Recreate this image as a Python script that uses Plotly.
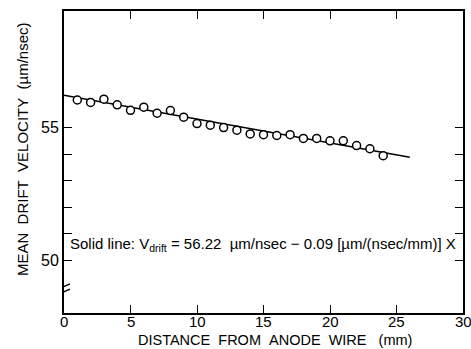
import plotly.graph_objects as go

distance_mm = [1, 2, 3, 4, 5, 6, 7, 8, 9, 10, 11, 12, 13, 14, 15, 16, 17, 18, 19, 20, 21, 22, 23, 24]
drift_velocity = [56.04, 55.95, 56.07, 55.86, 55.65, 55.77, 55.54, 55.64, 55.39, 55.15, 55.09, 55.00,
                  54.90, 54.76, 54.73, 54.70, 54.73, 54.59, 54.59, 54.50, 54.50, 54.32, 54.20, 53.94]
fit_intercept = 56.22
fit_slope = -0.09
fit_x = [0, 26]
fit_y = [fit_intercept + fit_slope * x for x in fit_x]

x_tickvals = [0, 5, 10, 15, 20, 25, 30]
x_ticktext = ["0", "5", "10", "15", "20", "25", "30"]
y_tickvals = [50, 51, 52, 53, 54, 55]
y_ticktext = ["50", "", "", "", "", "55"]

FONT = "Liberation Sans"
TICKFONT = "Liberation Sans Narrow, Liberation Sans"

fig = go.Figure()
fig.add_trace(go.Scatter(x=fit_x, y=fit_y, mode="lines",
                         line=dict(color="black", width=1.5), hoverinfo="skip"))
fig.add_trace(go.Scatter(x=distance_mm, y=drift_velocity, mode="markers",
                         marker=dict(symbol="circle", size=8, color="white",
                                     line=dict(color="black", width=1.5))))

axis_common = dict(showgrid=False, zeroline=False, showline=True, linecolor="black",
                   linewidth=1.8, mirror="ticks", ticks="inside", ticklen=8,
                   tickwidth=1.4, tickcolor="black",
                   tickfont=dict(family=TICKFONT, size=16, color="black"))

# x tick labels drawn as annotations so the last one ("30") is not dropped at the edge
fig.update_xaxes(range=[0, 30], tickvals=x_tickvals, showticklabels=False, **axis_common)
fig.update_yaxes(range=[48, 59.4], tickvals=y_tickvals, ticktext=y_ticktext, **axis_common)

for xv, xt in zip(x_tickvals, x_ticktext):
    fig.add_annotation(x=xv, y=0, xref="x", yref="paper", yshift=1, borderpad=0,
                       xanchor="center", yanchor="top", showarrow=False, text=xt,
                       font=dict(family=TICKFONT, size=15, color="black"))

# axis break marks on the left axis
fig.add_shape(type="rect", xref="x", yref="y", xsizemode="pixel", xanchor=0,
              x0=-3, x1=3, y0=48.82, y1=49.08, fillcolor="white", line=dict(width=0),
              layer="above")
for yb in [48.8, 49.0]:
    fig.add_shape(type="line", xref="x", yref="y", xsizemode="pixel", xanchor=0,
                  x0=-6, x1=6, y0=yb - 0.1, y1=yb + 0.1,
                  line=dict(color="black", width=1.4), layer="above")

fig.add_annotation(x=0.3, y=50.6, xref="x", yref="y", xanchor="left", yanchor="middle",
                   showarrow=False,
                   text="Solid line: V<sub>drift</sub> = 56.22 \u00a0µm/nsec − 0.09 [µm/(nsec/mm)] X",
                   font=dict(family=FONT, size=15, color="black"))

fig.add_annotation(x=0.528, y=-0.0894, xref="paper", yref="paper", xanchor="center", yanchor="middle",
                   showarrow=False, borderpad=0,
                   text="DISTANCE\u00a0\u00a0FROM\u00a0\u00a0ANODE\u00a0\u00a0WIRE\u00a0\u00a0\u00a0(mm)",
                   font=dict(family=FONT, size=14.5, color="black"))
fig.add_annotation(x=-0.105, y=0.543, xref="paper", yref="paper", xanchor="center", yanchor="middle",
                   showarrow=False, textangle=-90,
                   text="MEAN\u00a0\u00a0DRIFT\u00a0\u00a0VELOCITY\u00a0\u00a0(µm/nsec)",
                   font=dict(family=FONT, size=15, color="black"))

fig.update_layout(width=471, height=349, margin=dict(l=64, r=6, t=11, b=36),
                  paper_bgcolor="white", plot_bgcolor="white", showlegend=False)

fig.write_html("out.html", config={"displayModeBar": False},
               post_script="document.body.style.margin='0';document.body.style.overflow='hidden';")
